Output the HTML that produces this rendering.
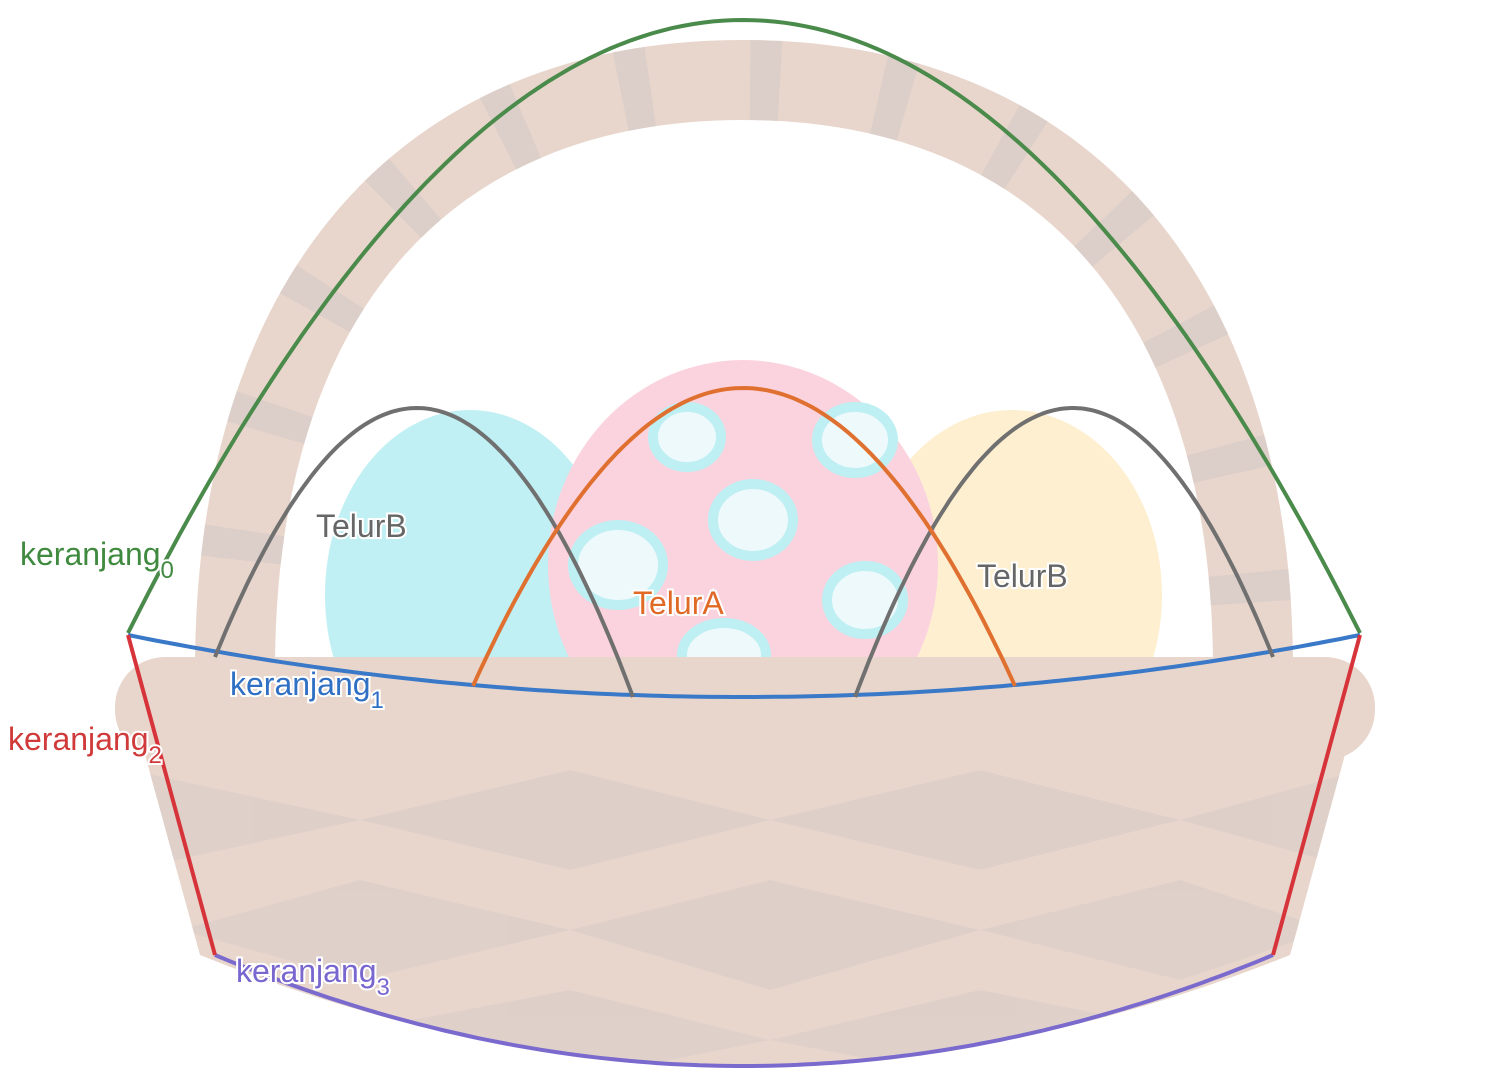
<!DOCTYPE html>
<html><head><meta charset="utf-8"><style>
html,body{margin:0;padding:0;background:#fff;}
svg{display:block;}
text{font-family:"Liberation Sans",sans-serif;font-size:32px;paint-order:stroke;stroke:#fff;stroke-width:4px;}
</style></head><body>
<svg id="c" width="1494" height="1080" viewBox="0 0 1494 1080">
<defs>
<clipPath id="bodyClip"><path d="M130,700 L1360,700 L1290,955 Q743,1175 200,955 Z"/></clipPath>
</defs>
<g>
<path d="M235,670 C235,300 420,80 743,80 C1066,80 1253,300 1253,670" fill="none" stroke="#e8d6cc" stroke-width="80"/>
<path d="M235,670 C235,300 420,80 743,80 C1066,80 1253,300 1253,670" fill="none" stroke="#dccfc9" stroke-width="80" stroke-dasharray="30 100" stroke-dashoffset="20"/>
</g>
<g>
<ellipse cx="470" cy="595" rx="145" ry="185" fill="#c0f0f3"/>
<ellipse cx="1012" cy="595" rx="150" ry="185" fill="#fdefcf"/>
<ellipse cx="743" cy="565" rx="195" ry="205" fill="#fbd3de"/>
<g fill="#eef9fb" stroke="#bdeff3" stroke-width="10">
<ellipse cx="687" cy="437" rx="34" ry="30"/>
<ellipse cx="855" cy="440" rx="38" ry="33"/>
<ellipse cx="753" cy="520" rx="40" ry="36"/>
<ellipse cx="618" cy="565" rx="45" ry="40"/>
<ellipse cx="865" cy="600" rx="38" ry="34"/>
<ellipse cx="724" cy="655" rx="42" ry="32"/>
</g>
</g>
<g>
<rect x="115" y="657" width="1260" height="103" rx="50" fill="#e8d6cc"/>
<path d="M130,700 L1360,700 L1290,955 Q743,1175 200,955 Z" fill="#e8d6cc"/>
<g clip-path="url(#bodyClip)" fill="#dccfc9" opacity="0.8">
<path d="M130,770 L360,820 L130,870 Z"/>
<path d="M360,820 L570,770 L770,820 L570,870 Z"/>
<path d="M770,820 L980,770 L1180,820 L980,870 Z"/>
<path d="M1180,820 L1360,770 L1360,870 Z"/>
<path d="M180,930 L360,880 L570,930 L360,980 Z"/>
<path d="M570,930 L770,880 L980,930 L770,990 Z"/>
<path d="M980,930 L1180,880 L1330,930 L1180,980 Z"/>
<path d="M360,1030 L570,990 L770,1040 L570,1080 Z"/>
<path d="M770,1040 L980,990 L1180,1030 L980,1080 Z"/>
</g>
</g>
<g id="curves"></g>
<g>
<text x="20" y="565" fill="#3f8a3f">keranjang<tspan font-size="24" dy="13">0</tspan></text>
<text x="230" y="695" fill="#2f6fc4">keranjang<tspan font-size="24" dy="13">1</tspan></text>
<text x="8" y="750" fill="#d03a3a">keranjang<tspan font-size="24" dy="13">2</tspan></text>
<text x="236" y="982" fill="#7a66cf">keranjang<tspan font-size="24" dy="13">3</tspan></text>
<text x="316" y="537" fill="#666">TelurB</text>
<text x="977" y="587" fill="#666">TelurB</text>
<text x="633" y="614" fill="#e06a25">TelurA</text>
</g>
</svg>
<script>
// parabola curves: [x0, x1, apexX, apexY, endY(left), endY(right)]
const curveNames = ['keranjang0','keranjang1','keranjang3','telurb-left','telurb-right','telura'];
const curveColors = ['#4a8a4a','#3a78c8','#7b6acd','#707070','#707070','#e07030'];
const curveX0 = [128,128,215,215,855,473];
const curveX1 = [1360,1360,1273,633,1273,1015];
const apexX = [743,743,743,417,1073,743];
const apexY = [20,697,1066,408,408,388];
const endY0 = [633,635,955,657,697,686];
const endY1 = [633,635,955,697,657,686];
const g = document.getElementById('curves');
const NS = 'http://www.w3.org/2000/svg';
for (let i = 0; i < curveNames.length; i++) {
  const aL = (endY0[i]-apexY[i])/Math.pow(curveX0[i]-apexX[i],2);
  const aR = (endY1[i]-apexY[i])/Math.pow(curveX1[i]-apexX[i],2);
  let d = '';
  for (let k = 0; k <= 120; k++) {
    const x = curveX0[i] + (curveX1[i]-curveX0[i])*k/120;
    const a = x < apexX[i] ? aL : aR;
    const y = apexY[i] + a*Math.pow(x-apexX[i],2);
    d += (k ? 'L' : 'M') + x.toFixed(1) + ',' + y.toFixed(1);
  }
  const p = document.createElementNS(NS,'path');
  p.setAttribute('d', d);
  p.setAttribute('fill','none');
  p.setAttribute('stroke', curveColors[i]);
  p.setAttribute('stroke-width','4');
  
  
  g.appendChild(p);
}
// side segments (keranjang2)
const segX0 = [128,1360], segY0 = [635,635], segX1 = [215,1273], segY1 = [955,955];
for (let i = 0; i < segX0.length; i++) {
  const l = document.createElementNS(NS,'line');
  l.setAttribute('x1',segX0[i]); l.setAttribute('y1',segY0[i]);
  l.setAttribute('x2',segX1[i]); l.setAttribute('y2',segY1[i]);
  l.setAttribute('stroke','#d6343a'); l.setAttribute('stroke-width','4');
  
  
  g.appendChild(l);
}
</script>
</body></html>
